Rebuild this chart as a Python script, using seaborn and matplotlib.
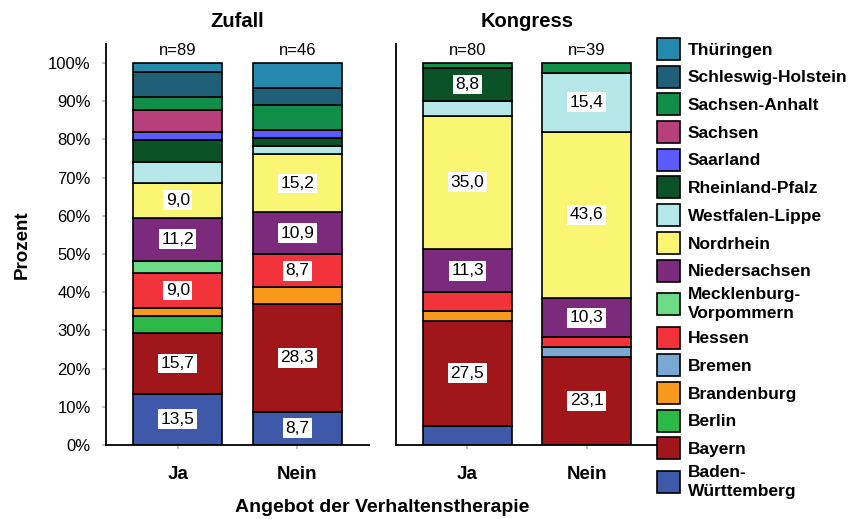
import numpy as np
import pandas as pd
import matplotlib
matplotlib.use("Agg")
import matplotlib.pyplot as plt
from matplotlib.patches import Patch
import seaborn as sns

# ---------------- data ----------------
states = ["Baden-\nWürttemberg", "Bayern", "Berlin", "Brandenburg", "Bremen", "Hessen",
          "Mecklenburg-\nVorpommern", "Niedersachsen", "Nordrhein", "Westfalen-Lippe",
          "Rheinland-Pfalz", "Saarland", "Sachsen", "Sachsen-Anhalt",
          "Schleswig-Holstein", "Thüringen"]
state_colors = ["#3E59AA", "#A1161B", "#2DB84A", "#F7991D", "#7BA7D4", "#F2333B",
                "#6EDC86", "#7B2A7C", "#FAF673", "#B5E6E8",
                "#0B5229", "#5B5BFF", "#B8407A", "#118E49",
                "#1F5F78", "#2589AE"]
groups = ["Ja", "Nein"]
panels = ["Zufall", "Kongress"]

zufall_ja = [13.48, 15.73, 4.49, 2.25, 0.0, 8.99, 3.37, 11.24, 8.99, 5.62, 5.62, 2.25, 5.62, 3.37, 6.74, 2.25]
zufall_nein = [8.70, 28.26, 0.0, 4.35, 0.0, 8.70, 0.0, 10.87, 15.22, 2.17, 2.17, 2.17, 0.0, 6.52, 4.35, 6.52]
kongress_ja = [5.00, 27.50, 0.0, 2.50, 0.0, 5.00, 0.0, 11.26, 35.00, 3.75, 8.76, 0.0, 0.0, 1.25, 0.0, 0.0]
kongress_nein = [0.0, 23.08, 0.0, 0.0, 2.56, 2.56, 0.0, 10.26, 43.59, 15.38, 0.0, 0.0, 0.0, 2.56, 0.0, 0.0]

n_zufall = [89, 46]
n_kongress = [80, 39]

# ---------------- table ----------------
rows = []
for panel, series in [("Zufall", [zufall_ja, zufall_nein]), ("Kongress", [kongress_ja, kongress_nein])]:
    for gi, vals in enumerate(series):
        for s, v in zip(states, vals):
            if v > 0:
                rows.append({"panel": panel, "grp": gi, "state": s, "pct": v})
df = pd.DataFrame(rows)

# ---------------- figure ----------------
sns.set_theme(style="white")
plt.rcParams["font.family"] = ["Liberation Sans", "DejaVu Sans"]
plt.rcParams["text.color"] = "black"
plt.rcParams["axes.labelcolor"] = "black"
plt.rcParams["xtick.color"] = "black"
plt.rcParams["ytick.color"] = "black"

fig = plt.figure(figsize=(8.68, 5.19), dpi=100)
W, H = 868, 519
ax_l = fig.add_axes([106 / W, (H - 445) / H, 263 / W, 401 / H])
ax_r = fig.add_axes([396 / W, (H - 445) / H, 262 / W, 401 / H])

palette = dict(zip(states, state_colors))
series_map = {"Zufall": [zufall_ja, zufall_nein], "Kongress": [kongress_ja, kongress_nein]}
n_map = {"Zufall": n_zufall, "Kongress": n_kongress}

for ax, panel in [(ax_l, "Zufall"), (ax_r, "Kongress")]:
    sub = df[df["panel"] == panel]
    sns.histplot(data=sub, x="grp", weights="pct", hue="state", hue_order=states[::-1],
                 palette=palette, multiple="stack", discrete=True, shrink=0.745,
                 edgecolor="black", linewidth=1.2, alpha=1, legend=False, ax=ax)
    ax.set_xlim(-0.6, 1.6)
    ax.set_ylim(0, 105)
    ax.set_xticks([0, 1])
    ax.set_xticklabels(groups, fontsize=13.5, fontweight="bold", color="black")
    ax.set_xlabel("")
    ax.set_ylabel("")
    ax.set_title(panel, fontsize=14.5, fontweight="bold", pad=12, color="black")
    for sp in ["top", "right"]:
        ax.spines[sp].set_visible(False)
    for sp in ["left", "bottom"]:
        ax.spines[sp].set_color("black")
        ax.spines[sp].set_linewidth(1.3)
    ax.tick_params(axis="x", length=3, color="#bbbbbb", labelcolor="black", pad=12, bottom=True)
    ax.tick_params(axis="y", length=3, color="#bbbbbb", labelcolor="black", pad=8, left=True)
    ax.grid(False)

    # segment labels
    for gi, vals in enumerate(series_map[panel]):
        cum = 0.0
        for v in vals:
            if v >= 8:
                lab = f"{v + 1e-6:.1f}".replace(".", ",")
                ax.text(gi, cum + v / 2, lab, ha="center", va="center", fontsize=12.5,
                        color="black",
                        bbox=dict(facecolor="white", edgecolor="none", pad=1.8))
            cum += v
        ax.text(gi, 102, f"n={n_map[panel][gi]}", ha="center", va="baseline",
                fontsize=12, color="black")

ax_l.set_yticks(np.arange(0, 101, 10))
ax_l.set_yticklabels([f"{t}%" for t in range(0, 101, 10)], fontsize=12, color="black")
ax_r.set_yticks(np.arange(0, 101, 10))
ax_r.set_yticklabels([])
ax_r.tick_params(axis="y", length=0)

fig.text(22 / W, 1 - 245 / H, "Prozent", rotation=90, ha="center", va="center",
         fontsize=13.5, fontweight="bold", color="black")
fig.text(382 / W, 1 - 507 / H, "Angebot der Verhaltenstherapie", ha="center", va="center",
         fontsize=14, fontweight="bold", color="black")

handles = [Patch(facecolor=c, edgecolor="black", linewidth=1.2, label=s)
           for s, c in zip(states, state_colors)][::-1]
leg = fig.legend(handles=handles, loc="upper left", bbox_to_anchor=(657 / W, 1 - 38 / H),
                 frameon=False, borderpad=0, borderaxespad=0, handlelength=1.32,
                 handleheight=1.57, handletextpad=0.45, labelspacing=0.33,
                 prop={"size": 12.5, "weight": "bold"})
for t in leg.get_texts():
    t.set_color("black")
    t.set_linespacing(1.3)

fig.savefig("out.png", dpi=100)
